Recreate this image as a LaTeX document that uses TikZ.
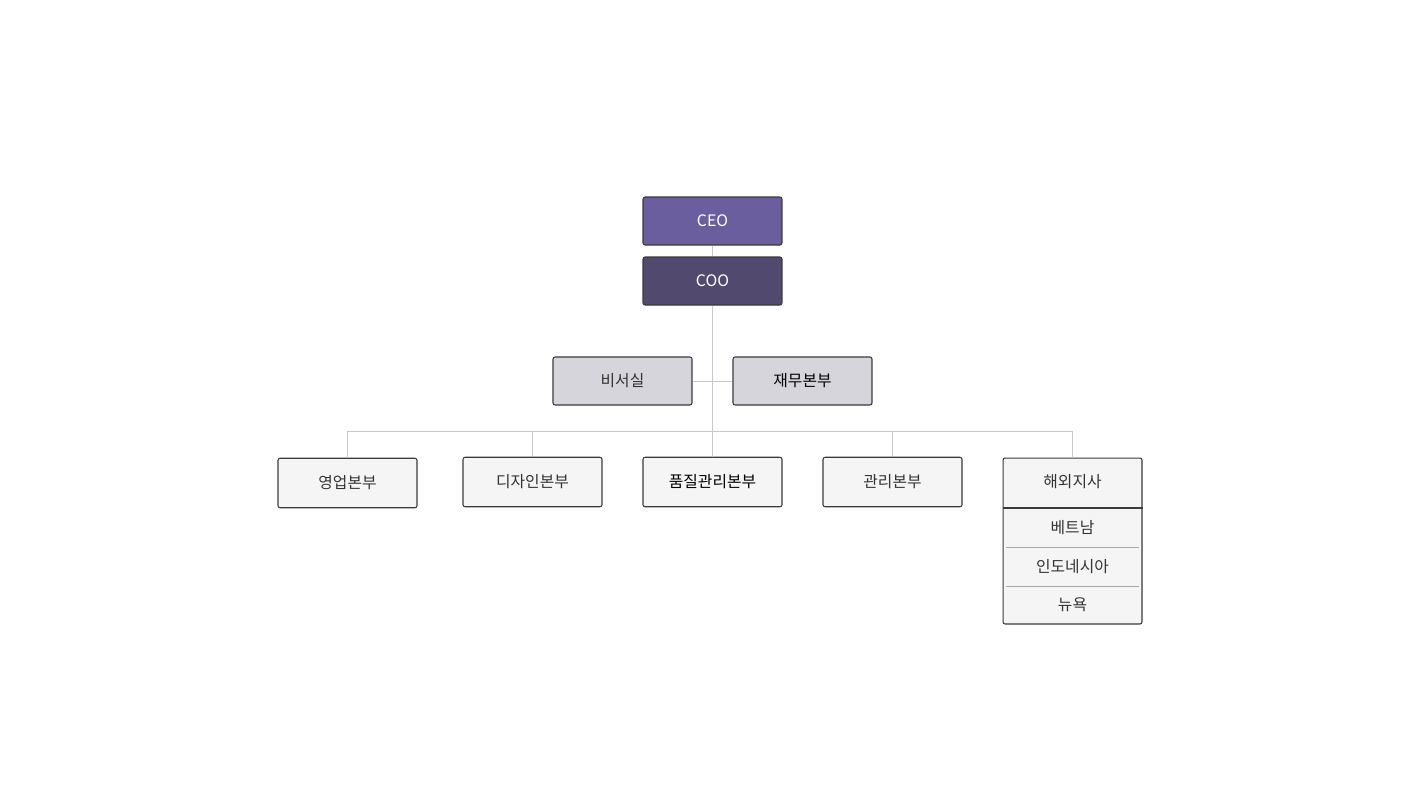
\documentclass[tikz,border=0pt]{standalone}
\usepackage{fontspec}
\setmainfont{Noto Sans CJK KR}
\definecolor{ceocol}{HTML}{6B5E9E}
\definecolor{coocol}{HTML}{524A6E}
\definecolor{staffcol}{HTML}{D6D5DC}
\definecolor{deptcol}{HTML}{F5F5F5}
\definecolor{edgecol}{HTML}{3A3A3A}
\definecolor{linkcol}{HTML}{C8C8C8}
\definecolor{labelcol}{HTML}{333333}
\tikzset{
  orgbox/.style={draw=edgecol, line width=0.6pt, rounded corners=1.2pt,
    minimum width=2.78cm, minimum height=0.96cm, inner sep=0pt,
    font=\fontsize{9}{11}\selectfont, text=labelcol},
  topbox/.style={orgbox, fill=#1, text=white},
  staffbox/.style={orgbox, fill=staffcol},
  deptbox/.style={orgbox, fill=deptcol, minimum height=0.99cm},
  itemlabel/.style={font=\fontsize{9}{11}\selectfont, text=labelcol, inner sep=0pt},
  link/.style={draw=linkcol, line width=0.5pt}
}
\begin{document}
\begin{tikzpicture}[x=0.02cm, y=-0.02cm]
  \useasboundingbox (0,0) rectangle (1426,802);

  % top management
  \node[topbox=ceocol] (ceo) at (712.5,221) {CEO};
  \node[topbox=coocol] (coo) at (712.5,281) {COO};

  % staff units
  \node[staffbox] (secretary) at (622.5,381) {비서실};
  \node[staffbox, text=black] (finance) at (802.5,381) {재무본부};

  % divisions
  \node[deptbox] (sales) at (347.5,483) {영업본부};
  \node[deptbox] (design) at (532.5,482) {디자인본부};
  \node[deptbox, text=black] (quality) at (712.5,482) {품질관리본부};
  \node[deptbox] (admin) at (892.5,482) {관리본부};
  \node[deptbox, minimum height=3.32cm] (overseas) at (1072.5,541) {};
  \node[itemlabel] (overseashead) at (1072.5,482) {해외지사};
  \node[itemlabel] (vietnam) at (1072.5,528) {베트남};
  \node[itemlabel] (indonesia) at (1072.5,567) {인도네시아};
  \node[itemlabel] (newyork) at (1072.5,605) {뉴욕};
  \draw[edgecol, line width=0.6pt] (overseas.west |- 0,508) -- (overseas.east |- 0,508);
  \draw[draw=gray!70, line width=0.4pt] (1006,547.5) -- (1139,547.5);
  \draw[draw=gray!70, line width=0.4pt] (1006,586.5) -- (1139,586.5);

  % connectors
  \coordinate (bus) at (712.5,431);
  \draw[link] (ceo) -- (coo);
  \draw[link] (coo) -- (bus);
  \draw[link] (secretary) -- (finance);
  \draw[link] (sales.north |- bus) -- (overseas.north |- bus);
  \foreach \d in {sales,design,quality,admin,overseas}
    \draw[link] (\d.north) -- (\d.north |- bus);
\end{tikzpicture}
\end{document}
